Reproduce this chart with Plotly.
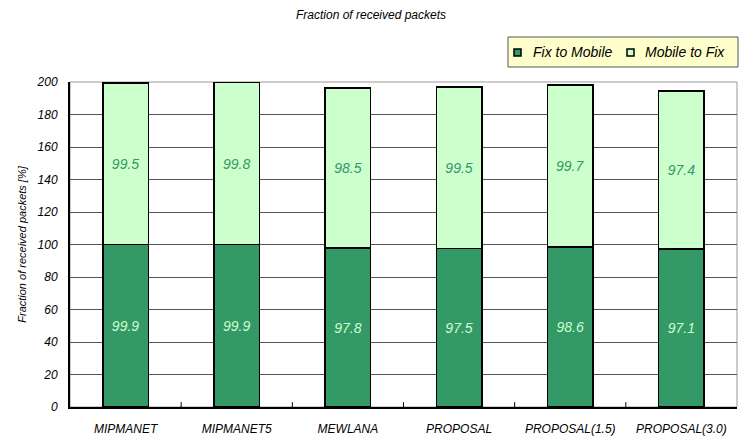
import plotly.graph_objects as go

categories = ["MIPMANET", "MIPMANET5", "MEWLANA", "PROPOSAL", "PROPOSAL(1.5)", "PROPOSAL(3.0)"]
fix_to_mobile = [99.9, 99.9, 97.8, 97.5, 98.6, 97.1]
mobile_to_fix = [99.5, 99.8, 98.5, 99.5, 99.7, 97.4]
y_ticks = [0, 20, 40, 60, 80, 100, 120, 140, 160, 180, 200]
series_names = ["Fix to Mobile", "Mobile to Fix"]

FONT = "Liberation Sans, Arial, sans-serif"
DARK = "#339966"
LIGHT = "#CCFFCC"
W, H = 742, 437
L, R, T, B = 70, 5, 82, 30

fig = go.Figure()
fig.add_trace(go.Bar(
    x=categories, y=fix_to_mobile, name=series_names[0], showlegend=False,
    marker=dict(color=DARK, line=dict(color="black", width=1.5)),
    text=[f"{v:.1f}" for v in fix_to_mobile], textposition="inside",
    insidetextanchor="middle", textangle=0,
    insidetextfont=dict(color=LIGHT, size=14, family=FONT, style="italic"),
))
fig.add_trace(go.Bar(
    x=categories, y=mobile_to_fix, name=series_names[1], showlegend=False,
    marker=dict(color=LIGHT, line=dict(color="black", width=1.5)),
    text=[f"{v:.1f}" for v in mobile_to_fix], textposition="inside",
    insidetextanchor="middle", textangle=0,
    insidetextfont=dict(color=DARK, size=14, family=FONT, style="italic"),
))

pw, ph = W - L - R, H - T - B
def px(x):
    return (x - L) / pw
def py(y):
    return (H - B - y) / ph

shapes = [dict(type="rect", xref="paper", yref="paper", x0=0, x1=1, y0=0, y1=1,
               line=dict(color="#999999", width=1), layer="below")]
annotations = []
# manual legend box
shapes.append(dict(type="rect", xref="paper", yref="paper",
                   x0=px(508), x1=px(738), y0=py(67), y1=py(37),
                   fillcolor="#FFFFCC", line=dict(color="#555555", width=1)))
for (mx, tx), name, col in zip([(514, 531), (627, 643)], series_names, [DARK, LIGHT]):
    shapes.append(dict(type="rect", xref="paper", yref="paper",
                       x0=px(mx), x1=px(mx + 7), y0=py(56), y1=py(49),
                       fillcolor=col, line=dict(color="black", width=1.5)))
    annotations.append(dict(xref="paper", yref="paper", x=px(tx), y=py(52),
                            xanchor="left", yanchor="middle", showarrow=False,
                            text=name, font=dict(size=14, family=FONT, style="italic", color="black")))

fig.update_layout(
    barmode="stack", bargap=0.59,
    width=W, height=H,
    margin=dict(l=L, r=R, t=T, b=B),
    paper_bgcolor="white", plot_bgcolor="white",
    font=dict(family=FONT, size=11, color="black", style="italic"),
    title=dict(text="Fraction of received packets", x=0.5, xanchor="center",
               y=0.965, yanchor="middle",
               font=dict(size=12, family=FONT, style="italic", color="black")),
    showlegend=False,
    shapes=shapes, annotations=annotations,
)
fig.update_xaxes(
    showline=True, linecolor="black", linewidth=2, automargin=False,
    ticks="", showgrid=False, ticklabelstandoff=10,
    tickfont=dict(size=12, family=FONT, style="italic"),
)
fig.update_yaxes(
    range=[0, 200], tickvals=y_ticks, automargin=False,
    showline=True, linecolor="black", linewidth=2,
    ticks="", ticklabelstandoff=8,
    showgrid=True, gridcolor="#555555", gridwidth=1,
    tickfont=dict(size=12, family=FONT, style="italic"),
    title=dict(text="Fraction of received packets [%]", standoff=8,
               font=dict(size=11, family=FONT, style="italic")),
    zeroline=False,
)
# category boundary ticks on x axis
for i in range(1, len(categories)):
    fig.add_shape(type="line", xref="x", yref="paper", x0=i - 0.5, x1=i - 0.5,
                  y0=0, y1=0.015, line=dict(color="black", width=1))

fig.write_html("out.html")
